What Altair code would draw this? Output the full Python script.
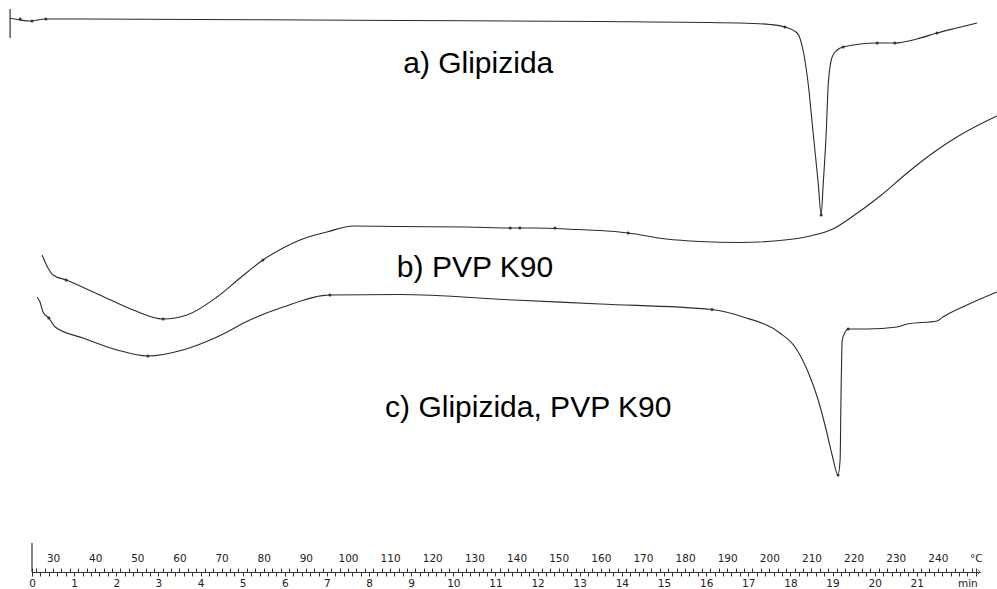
import altair as alt
import pandas as pd

# ---- Curve a) Glipizida : temperature (°C) / heat flow (arbitrary units)
A_TEMP = [19.8, 22.2, 24.5, 28.1, 64.9, 112.3, 159.8, 193.0, 200.2, 203.7, 206.6, 208.0, 209.2,
          210.4, 211.6, 212.3, 212.8, 213.5, 214.0, 214.9, 216.1, 217.5, 225.6, 229.8, 235.0,
          239.8, 244.5, 249.3]
A_HF = [55.4, 55.2, 55.1, 55.3, 55.25, 55.15, 55.05, 54.9, 54.75, 54.5, 53.9, 52.2, 48.9,
        43.9, 38.9, 35.7, 38.9, 43.9, 48.9, 51.5, 52.2, 52.5, 52.9, 52.9, 53.3,
        53.9, 54.4, 54.9]

# ---- Curve b) PVP K90
B_TEMP = [27.4, 28.8, 30.0, 33.1, 41.1, 49.0, 56.1, 61.8, 68.9, 74.4, 79.8, 84.6, 88.6, 95.0,
          101.2, 112.3, 128.2, 139.2, 143.9, 154.4, 159.8, 166.5, 175.5, 183.5, 193.0, 202.5,
          209.7, 215.1, 219.9, 226.3, 232.7, 238.8, 244.5, 254.0]
B_HF = [31.7, 30.4, 29.7, 29.2, 27.7, 26.2, 25.3, 25.7, 27.5, 29.4, 31.2, 32.4, 33.2, 34.0,
        34.6, 34.55, 34.5, 34.4, 34.4, 34.25, 34.15, 33.9, 33.3, 33.05, 32.95, 33.15,
        33.6, 34.3, 35.6, 37.6, 39.9, 41.9, 43.5, 45.6]

# ---- Curve c) Glipizida, PVP K90
C_TEMP = [26.2, 26.9, 27.6, 29.0, 30.5, 37.1, 45.2, 52.5, 60.8, 68.9, 76.7, 84.6, 95.7, 112.3,
          139.4, 159.8, 186.4, 193.8, 202.5, 206.1, 209.2, 211.6, 213.5, 214.9, 216.3, 216.8,
          217.0, 217.3, 218.0, 218.7, 223.2, 230.3, 232.7, 239.8, 241.2, 246.9, 254.0]
C_HF = [27.5, 27.0, 26.0, 25.4, 24.5, 23.4, 22.2, 21.6, 22.2, 23.5, 25.2, 26.5, 27.7, 27.75,
        27.2, 26.8, 26.25, 25.5, 23.9, 22.5, 20.0, 17.2, 14.2, 11.7, 9.7, 11.2,
        17.2, 23.2, 24.0, 24.3, 24.3, 24.5, 24.8, 25.1, 25.5, 26.7, 28.0]

# ---- analysis markers drawn on the curves
MARK_TEMP = [22.2, 25.0, 28.3, 203.7, 212.3, 217.5, 225.6, 229.8, 239.8,
             33.1, 56.1, 79.8, 138.5, 140.8, 149.1, 166.5,
             29.0, 52.5, 95.7, 186.4, 218.7, 216.3]
MARK_HF = [55.3, 55.1, 55.3, 54.5, 35.7, 52.5, 52.9, 52.9, 53.9,
           29.2, 25.3, 31.2, 34.4, 34.4, 34.4, 33.9,
           25.4, 21.6, 27.7, 26.25, 24.3, 9.7]

# ---- curve labels
LABELS = ["a) Glipizida", "b) PVP K90", "c) Glipizida, PVP K90"]
LABEL_TEMP = [113.1, 111.6, 108.8]
LABEL_HF = [49.9, 29.5, 15.5]

# ---- axis tick labels
TEMP_LABELS = [30, 40, 50, 60, 70, 80, 90, 100, 110, 120, 130, 140, 150, 160, 170, 180,
               190, 200, 210, 220, 230, 240]
TIME_LABELS = list(range(0, 22))
TEMP_UNIT_POS = 249
TIME_UNIT_POS = 22.2

T_DOMAIN = [25, 250]
TIME_DOMAIN = [0, 22.5]
HF_DOMAIN = [0, 57.2]

rows = []
for name, ts, hs in (("a", A_TEMP, A_HF), ("b", B_TEMP, B_HF), ("c", C_TEMP, C_HF)):
    for i, (t, h) in enumerate(zip(ts, hs)):
        rows.append({"serie": name, "idx": i, "temp": t, "hf": h})
curves_df = pd.DataFrame(rows)
marks_df = pd.DataFrame({"temp": MARK_TEMP, "hf": MARK_HF})
labels_df = pd.DataFrame({"label": LABELS, "temp": LABEL_TEMP, "hf": LABEL_HF})

temp_ticks = sorted(set([25] + [v for v in range(26, 249, 2)] + [TEMP_UNIT_POS]))
time_ticks = [round(i * 0.2, 1) for i in range(0, 113)]

temp_label_list = ",".join(str(v) for v in TEMP_LABELS)
time_label_list = ",".join(str(v) for v in TIME_LABELS)

AXIS_FONT = "DejaVu Sans"
temp_axis = alt.Axis(
    orient="top", offset=-572, values=temp_ticks,
    labelExpr=f"datum.value == {TEMP_UNIT_POS} ? '°C' : (indexof([{temp_label_list}], datum.value) >= 0 ? toString(datum.value) : '')",
    tickSize=4, labelPadding=5, grid=False, title=None, domainColor="#333", tickColor="#333",
    labelFont=AXIS_FONT, labelFontSize=10.5, labelColor="#222", labelOverlap=False,
    labelFlush=False, labelBound=False,
)
time_axis = alt.Axis(
    orient="bottom", values=time_ticks,
    labelExpr=f"abs(datum.value - {TIME_UNIT_POS}) < 0.01 ? 'min' : (abs(datum.value - round(datum.value)) < 0.01 && indexof([{time_label_list}], round(datum.value)) >= 0 ? toString(round(datum.value)) : '')",
    tickSize=4, labelPadding=2, grid=False, title=None, domainColor="#333", tickColor="#333",
    labelFont=AXIS_FONT, labelFontSize=10.5, labelColor="#222", labelOverlap=False,
    labelFlush=False, labelBound=False,
)

def xt(field="temp"):
    return alt.X(f"{field}:Q", scale=alt.Scale(domain=T_DOMAIN, nice=False, zero=False), axis=temp_axis)

def yh(field="hf"):
    return alt.Y(f"{field}:Q", scale=alt.Scale(domain=HF_DOMAIN, nice=False, zero=False), axis=None)

lines = alt.Chart(curves_df).mark_line(color="#2b2b2b", strokeWidth=1.1, interpolate="monotone").encode(
    x=xt(), y=yh(), detail="serie:N", order="idx:Q"
)
points = alt.Chart(marks_df).mark_point(filled=True, size=9, color="#333", opacity=1).encode(x=xt(), y=yh())
texts = alt.Chart(labels_df).mark_text(
    align="left", baseline="alphabetic", font="Liberation Sans", fontSize=30, color="black"
).encode(x=xt(), y=yh(), text="label:N")

start_df = pd.DataFrame({"temp": [A_TEMP[0], T_DOMAIN[0]], "hf": [53.4, 0.0], "hf2": [56.3, 2.9]})
start_rules = alt.Chart(start_df).mark_rule(color="#333", strokeWidth=1.2).encode(
    x=xt(), y=yh(), y2="hf2:Q"
)
arrow = alt.Chart(pd.DataFrame({"temp": [T_DOMAIN[1]], "hf": [0.0]})).mark_point(
    shape="M-1,-1L0,0L-1,1", filled=False, size=20, color="#333", strokeWidth=1
).encode(x=xt(), y=yh())

main = alt.layer(lines, points, texts, start_rules, arrow)

time_layer = alt.Chart(pd.DataFrame({"t": TIME_LABELS})).mark_point(opacity=0).encode(
    x=alt.X("t:Q", scale=alt.Scale(domain=TIME_DOMAIN, nice=False, zero=False), axis=time_axis)
)

chart = alt.layer(main, time_layer).resolve_scale(x="independent").properties(
    width=948, height=572,
    autosize=alt.AutoSizeParams(type="none"),
    padding={"left": 32, "top": 0, "right": 17, "bottom": 17},
    background="white",
).configure_view(stroke=None)

chart.save("out.html", embed_options={"renderer": "svg", "actions": False})
